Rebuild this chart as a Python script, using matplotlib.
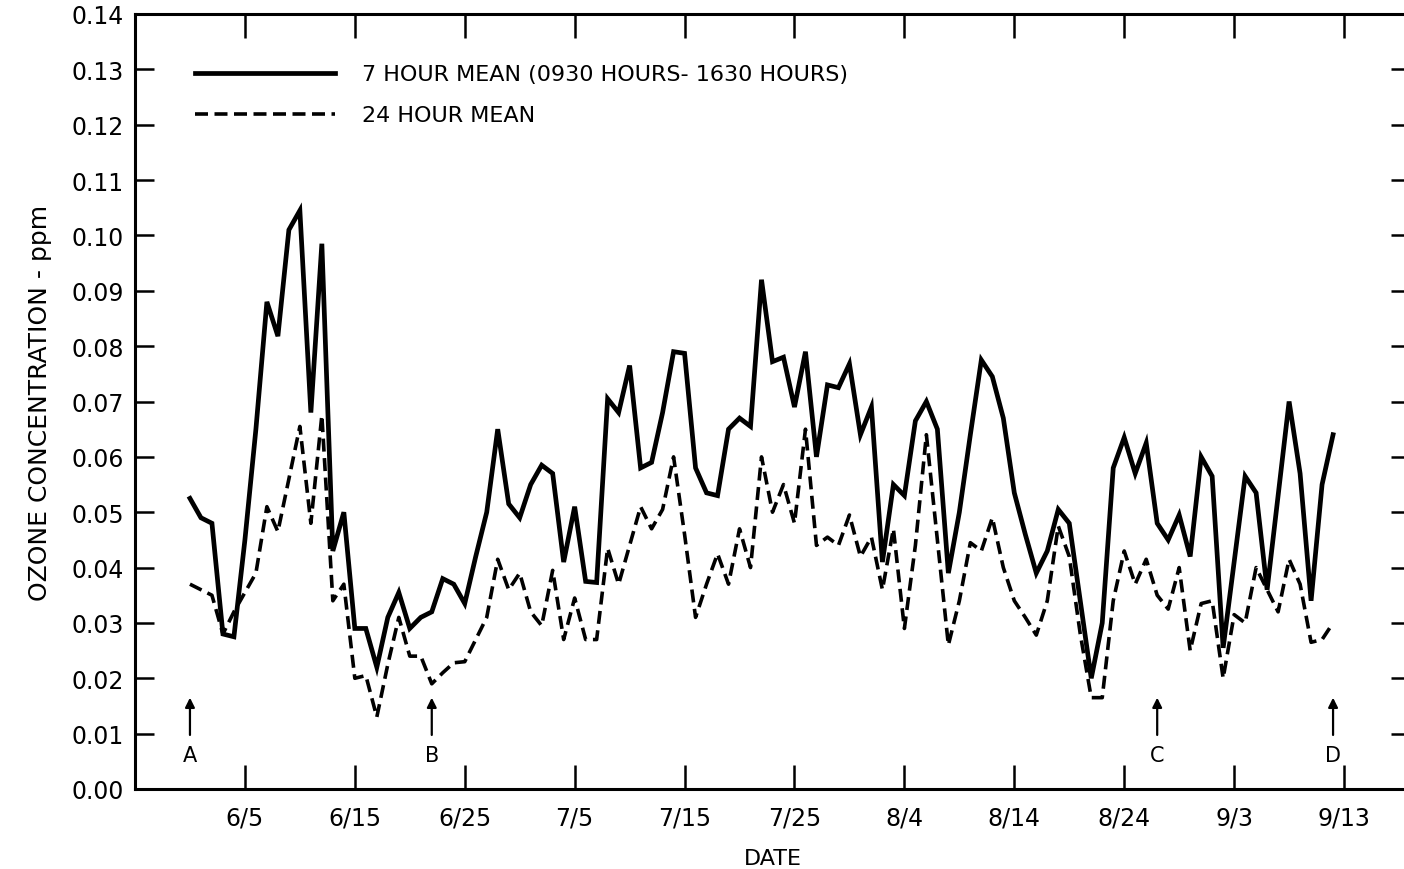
import numpy as np
import matplotlib
matplotlib.use('Agg')
import matplotlib.pyplot as plt

# day of year, 5/31 .. 9/12
doy = np.arange(151, 256)

mean_7hr = np.array([
    0.0525, 0.049, 0.048, 0.028, 0.0275, 0.045, 0.065, 0.088, 0.0818, 0.101,
    0.1045, 0.068, 0.0985, 0.043, 0.050, 0.029, 0.029, 0.022, 0.031, 0.0355,
    0.029, 0.031, 0.032, 0.038, 0.037, 0.0335, 0.042, 0.050, 0.065, 0.0515,
    0.049, 0.055, 0.0585, 0.057, 0.041, 0.051, 0.0375, 0.0373, 0.0705, 0.068,
    0.0765, 0.058, 0.059, 0.068, 0.079, 0.0787, 0.058, 0.0535, 0.053, 0.065,
    0.067, 0.0655, 0.092, 0.0772, 0.078, 0.069, 0.079, 0.060, 0.073, 0.0725,
    0.0768, 0.064, 0.069, 0.041, 0.055, 0.053, 0.0665, 0.070, 0.065, 0.039,
    0.050, 0.064, 0.0775, 0.0745, 0.067, 0.0535, 0.046, 0.039, 0.043, 0.0505,
    0.048, 0.034, 0.020, 0.030, 0.058, 0.0635, 0.057, 0.0625, 0.048, 0.045,
    0.0495, 0.042, 0.060, 0.0565, 0.0255, 0.041, 0.0565, 0.0535, 0.036, np.nan,
    0.070, 0.057, 0.034, 0.055, 0.064])

mean_24hr = np.array([
    0.037, 0.036, 0.035, 0.028, 0.032, 0.0355, 0.039, 0.051, 0.0465, 0.056,
    0.0655, 0.048, 0.0675, 0.034, 0.037, 0.020, 0.0205, 0.013, 0.0225, 0.031,
    0.024, 0.024, 0.019, 0.021, 0.0228, 0.023, 0.027, 0.031, 0.0415, 0.036,
    0.039, 0.032, 0.0295, 0.0395, 0.027, 0.0345, 0.027, 0.027, 0.0435, 0.037,
    0.044, 0.051, 0.047, 0.0505, 0.060, 0.046, 0.031, 0.037, 0.0425, 0.037,
    0.047, 0.040, 0.060, 0.050, 0.055, 0.048, 0.065, 0.044, 0.0455, 0.044,
    0.0495, 0.042, 0.0455, 0.036, 0.047, 0.029, 0.044, 0.064, 0.045, 0.026,
    0.034, 0.0445, 0.043, 0.049, 0.040, 0.034, 0.031, 0.0278, 0.034, 0.0475,
    0.042, 0.028, 0.0165, 0.0165, 0.034, 0.043, 0.037, 0.0415, 0.035, 0.0325,
    0.040, 0.025, 0.0335, 0.034, 0.020, 0.0315, 0.030, 0.040, 0.036, 0.032,
    0.0415, 0.037, 0.0265, 0.027, 0.030])

tick_doy = [156, 166, 176, 186, 196, 206, 216, 226, 236, 246, 256]
tick_lbl = ['6/5', '6/15', '6/25', '7/5', '7/15', '7/25', '8/4', '8/14',
            '8/24', '9/3', '9/13']

marks = ['A', 'B', 'C', 'D']
mark_doy = [151, 173, 239, 255]

plt.rcParams['font.family'] = 'DejaVu Sans'

fig = plt.figure(figsize=(14.04, 8.70), dpi=100)
ax = fig.add_axes([135/1404, 80/870, 1275/1404, 775/870])

ok = ~np.isnan(mean_7hr)
ax.plot(doy[ok], mean_7hr[ok], '-k', lw=3.4, solid_joinstyle='miter',
        label='7 HOUR MEAN (0930 HOURS- 1630 HOURS)')
ax.plot(doy, mean_24hr, '--k', lw=2.6, dashes=(3.6, 1.8),
        label='24 HOUR MEAN')

for m, d in zip(marks, mark_doy):
    ax.annotate(m, xy=(d, 0.0165), xytext=(d, 0.0062), ha='center',
                va='center', fontsize=15,
                arrowprops=dict(arrowstyle='-|>', color='k', lw=1.6,
                                mutation_scale=14, shrinkA=5, shrinkB=0))

ax.set_xlim(146, 262)
ax.set_ylim(0, 0.14)
ax.set_xticks(tick_doy)
ax.set_xticklabels(tick_lbl)
ax.set_yticks(np.arange(0, 0.141, 0.01))
ax.set_yticklabels(['%.2f' % v for v in np.arange(0, 0.141, 0.01)])
ax.tick_params(axis='x', direction='in', length=17, width=1.8, top=True,
               labelsize=17, pad=12)
ax.tick_params(axis='y', direction='in', length=14, width=1.8, right=True,
               labelsize=17, pad=8)
for s in ax.spines.values():
    s.set_linewidth(2.2)

ax.set_xlabel('DATE', fontsize=16, labelpad=13)
ax.set_ylabel('OZONE CONCENTRATION - ppm', fontsize=18, labelpad=14)

ax.legend(loc='upper left', bbox_to_anchor=(0.047, 0.935), frameon=False,
          fontsize=16, handlelength=6.3, handletextpad=1.2,
          labelspacing=0.95, borderpad=0, borderaxespad=0)

fig.savefig('out.png', dpi=100)
